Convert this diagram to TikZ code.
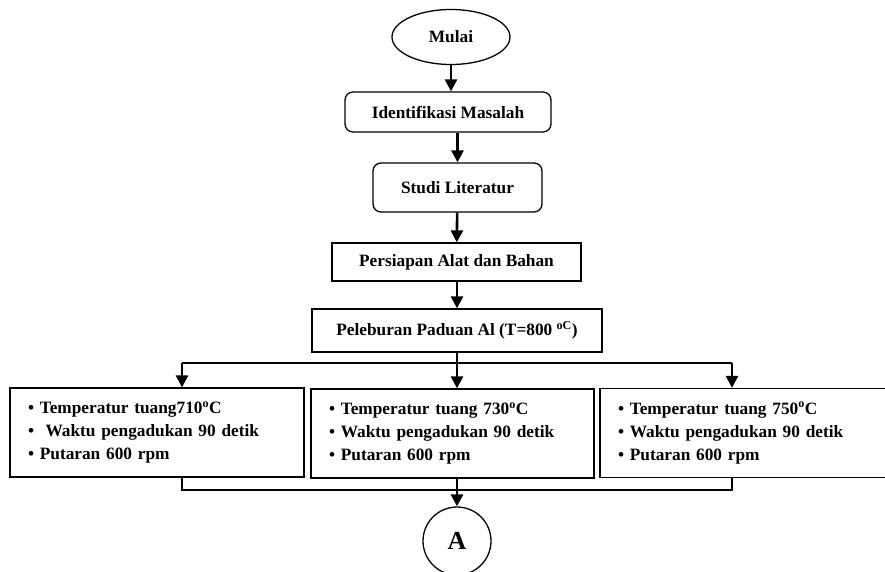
\documentclass[tikz,border=0pt]{standalone}
\usepackage{fontspec}
\setmainfont{Liberation Serif}
\usepackage{tikz}
\usetikzlibrary{arrows.meta,shapes.geometric}

\tikzset{
  flow/.style={draw, line width=1.3pt, font=\fontsize{17.3}{23}\selectfont\bfseries, inner sep=0pt},
  startnode/.style={flow, ellipse},
  roundbox/.style={flow, rectangle, rounded corners=8pt},
  plainbox/.style={flow, rectangle},
  listbox/.style={flow, rectangle, minimum width=294pt, minimum height=89pt, text width=258pt, align=left},
  connector/.style={flow, circle, minimum size=68pt, font=\fontsize{26}{30}\selectfont\bfseries},
  arr/.style={line width=2.6pt, -{Triangle[width=12pt,length=12pt]}},
  thinline/.style={line width=1.3pt}
}
\newcommand{\bul}{\textbullet\ }

\begin{document}
\begin{tikzpicture}[x=1pt,y=-1pt]
						\useasboundingbox (0,0) rectangle (885,572);
						\clip (0,0) rectangle (885,572);
						\node[startnode, minimum width=118pt, minimum height=55pt] (mulai) at (451,37) {Mulai};
						\node[roundbox, minimum width=206pt, minimum height=40pt] (ident) at (448,112) {Identifikasi Masalah};
						\node[roundbox, minimum width=169pt, minimum height=49pt] (studi) at (457.5,187.5) {Studi Literatur};
						\node[plainbox, minimum width=249pt, minimum height=38pt] (siap) at (456.5,262) {Persiapan Alat dan Bahan};
						\node[plainbox, minimum width=290pt, minimum height=43pt] (lebur) at (457,330.5) {Peleburan Paduan Al (T=800 \textsuperscript{oC})};
						\node[listbox] (suhu1) at (157,432.5) {\bul Temperatur tuang710\textsuperscript{o}C\\\bul \ Waktu pengadukan 90 detik\\\bul Putaran 600 rpm};
						\node[listbox, minimum width=283pt, text width=247pt] (suhu2) at (452.5,433.5) {\bul Temperatur tuang 730\textsuperscript{o}C\\\bul Waktu pengadukan 90 detik\\\bul Putaran 600 rpm};
						\node[listbox] (suhu3) at (747,433) {\bul Temperatur tuang 750\textsuperscript{o}C\\\bul Waktu pengadukan 90 detik\\\bul Putaran 600 rpm};
						\node[connector] (hubA) at (457,541) {A};
						\coordinate (cabangL) at (182,363);
						\coordinate (cabangR) at (732,363);
						\coordinate (gabungL) at (182,490);
						\coordinate (gabungR) at (732,490);
						\draw[arr] (mulai) -- (ident.north -| mulai);
						\draw[arr] (ident.south -| studi) -- (studi);
						\draw[arr] (studi) -- (siap);
						\draw[arr] (siap.south -| lebur) -- (lebur);
						\draw[arr] (lebur.south) -- (lebur.south |- suhu2.north);
						\draw[thinline] (cabangL) -- (cabangR);
						\draw[arr] (cabangL) -- (cabangL |- suhu1.north);
						\draw[arr] (cabangR) -- (cabangR |- suhu3.north);
						\draw[thinline] (gabungL |- suhu1.south) -- (gabungL) -- (gabungR) -- (gabungR |- suhu3.south);
						\draw[arr] (hubA.north |- suhu2.south) -- (hubA);
					\end{tikzpicture}
\end{document}
